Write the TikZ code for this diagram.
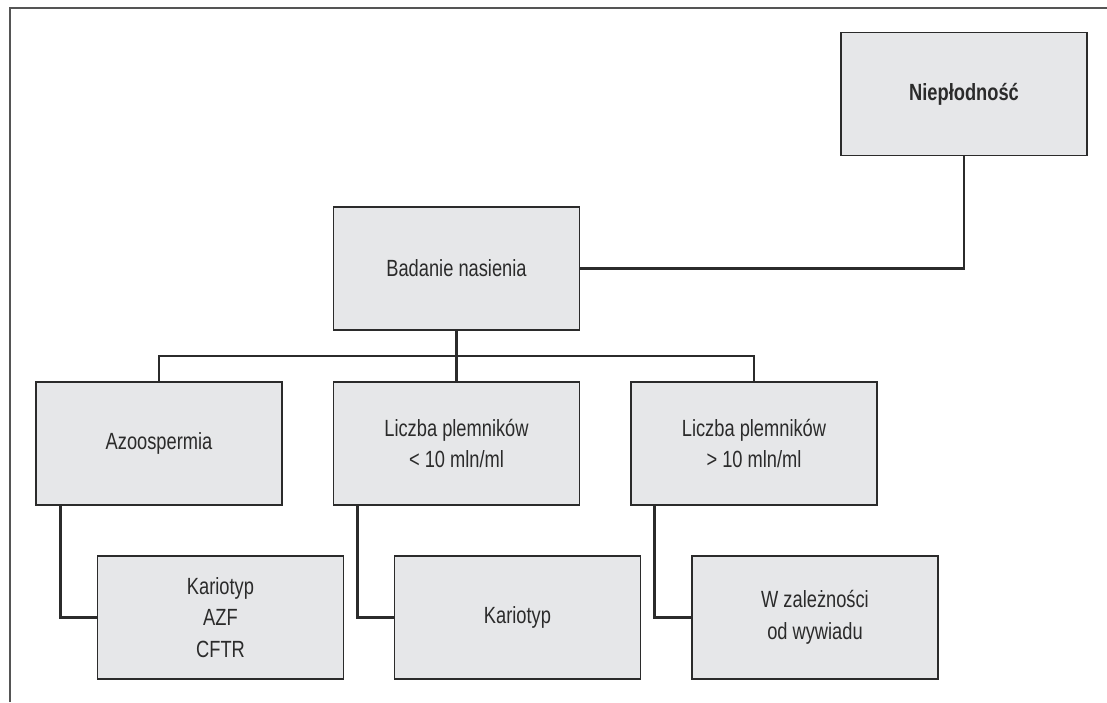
\documentclass[tikz,border=0pt]{standalone}
\usepackage{fontspec}
\setmainfont[FakeStretch=0.78]{Liberation Sans}
\definecolor{boxfill}{HTML}{E6E7E9}
\definecolor{boxline}{HTML}{2B2B2B}
\definecolor{framegray}{HTML}{555555}
\tikzset{
  card/.style={draw=boxline, fill=boxfill, line width=1.3pt, minimum width=7.38cm,
    minimum height=3.69cm, inner sep=0pt, align=center, text=boxline},
  link/.style={draw=boxline, line width=2.2pt}
}
\begin{document}
\begin{tikzpicture}[every node/.style={font=\fontsize{20}{27}\selectfont}]
  \useasboundingbox (0,0) rectangle (33.21,21.06);
  \coordinate (FL) at (0.30,0); \coordinate (FC) at (0.30,20.82);
  \coordinate (FR) at (33.21,20.82);
  \draw[framegray, line width=1.4pt] (FL)--(FC)--(FR);
  \node[card] (niep) at (28.92,18.24) {\textbf{Niepłodność}};
  \node[card] (badanie) at (13.695,13.005) {Badanie nasienia};
  \node[card] (azoo) at (4.77,7.755) {Azoospermia};
  \node[card] (mniej) at (13.695,7.755) {Liczba plemników\\< 10 mln/ml};
  \node[card] (wiecej) at (22.62,7.755) {Liczba plemników\\> 10 mln/ml};
  \node[card] (kariotypA) at (6.615,2.535) {Kariotyp\\AZF\\CFTR};
  \node[card] (kariotypB) at (15.525,2.535) {Kariotyp};
  \node[card] (wywiad) at (24.45,2.535) {W zależności\\od wywiadu};
  \coordinate (bus) at (13.695,10.38);
  \draw[link] (niep.south) |- (badanie.east);
  \draw[link] (badanie.south) -- (mniej.north);
  \draw[link] (azoo.north) |- (bus) -| (wiecej.north);
  \draw[link] ([xshift=0.75cm]azoo.south west) |- (kariotypA.west);
  \draw[link] ([xshift=0.75cm]mniej.south west) |- (kariotypB.west);
  \draw[link] ([xshift=0.72cm]wiecej.south west) |- (wywiad.west);
\end{tikzpicture}
\end{document}
